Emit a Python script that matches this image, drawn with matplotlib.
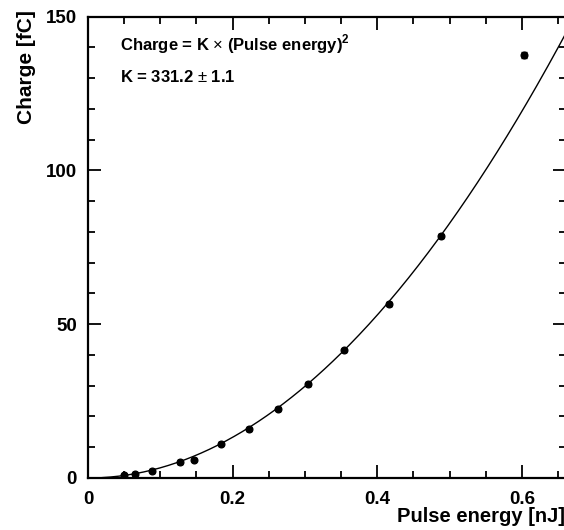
import numpy as np
import matplotlib
matplotlib.use("Agg")
import matplotlib.pyplot as plt
from matplotlib.ticker import MultipleLocator

plt.rcParams["font.family"] = ["Liberation Sans", "DejaVu Sans"]
plt.rcParams["mathtext.fontset"] = "custom"
plt.rcParams["mathtext.rm"] = "Liberation Sans"
plt.rcParams["mathtext.bf"] = "Liberation Sans:bold"

energy_nj = [0.0498, 0.0646, 0.089, 0.127, 0.1466, 0.1835, 0.222,
             0.263, 0.3047, 0.354, 0.4168, 0.488, 0.6035]
charge_fc = [1.0, 1.3, 2.4, 5.1, 6.0, 11.2, 15.9,
             22.5, 30.6, 41.5, 56.5, 78.7, 137.6]
charge_err = [0.4, 0.4, 0.4, 0.5, 0.6, 0.5, 0.5,
              0.5, 0.6, 0.6, 0.7, 0.8, 1.0]
energy_err = [0.002] * len(energy_nj)

# fit result
K = 331.2
K_err = 1.1

fig = plt.figure(figsize=(5.64, 5.30), dpi=100)
ax = fig.add_axes([88 / 564, 1 - 478 / 530, 478 / 564, (478 - 16.7) / 530])

xf = np.linspace(0.02, 0.7, 300)
ax.plot(xf, K * xf ** 2, color="black", lw=1.0)

ax.errorbar(energy_nj, charge_fc, yerr=charge_err, xerr=energy_err,
            fmt="o", ms=4.8, color="black", ecolor="black",
            elinewidth=1.0, capsize=2.0, capthick=1.0)

ax.set_xlim(0, 0.661)
ax.set_ylim(0, 150)

ax.xaxis.set_major_locator(MultipleLocator(0.2))
ax.xaxis.set_minor_locator(MultipleLocator(0.05))
ax.yaxis.set_major_locator(MultipleLocator(50))
ax.yaxis.set_minor_locator(MultipleLocator(10))
ax.xaxis.set_major_formatter(plt.FuncFormatter(lambda v, p: "0" if v == 0 else f"{v:.1f}"))

ax.tick_params(which="both", direction="in", top=True, right=True,
               width=1.3, labelsize=13.5)
ax.tick_params(which="major", length=9.5)
ax.tick_params(which="minor", length=5)
ax.tick_params(axis="x", pad=9)
ax.tick_params(axis="y", pad=8)
for lab in ax.get_xticklabels() + ax.get_yticklabels():
    lab.set_fontweight("bold")
for sp in ax.spines.values():
    sp.set_linewidth(1.6)

fig.text(27 / 564, 1 - 10 / 530, "Charge [fC]", rotation=90, ha="center",
         va="top", fontsize=15, fontweight="bold")
fig.text(397 / 564, 1 - 522 / 530, "Pulse energy [nJ]", ha="left",
         va="baseline", fontsize=14.5, fontweight="bold")

fig.text(120 / 564, 1 - 50 / 530, r"Charge = K $\times$ (Pulse energy)$^{\mathbf{2}}$",
         fontsize=12, fontweight="bold", va="baseline", ha="left")
fig.text(120 / 564, 1 - 81.5 / 530, "K = %.1f $\\pm$ %.1f" % (K, K_err),
         fontsize=12, fontweight="bold", va="baseline", ha="left")

fig.savefig("out.png", dpi=100)
